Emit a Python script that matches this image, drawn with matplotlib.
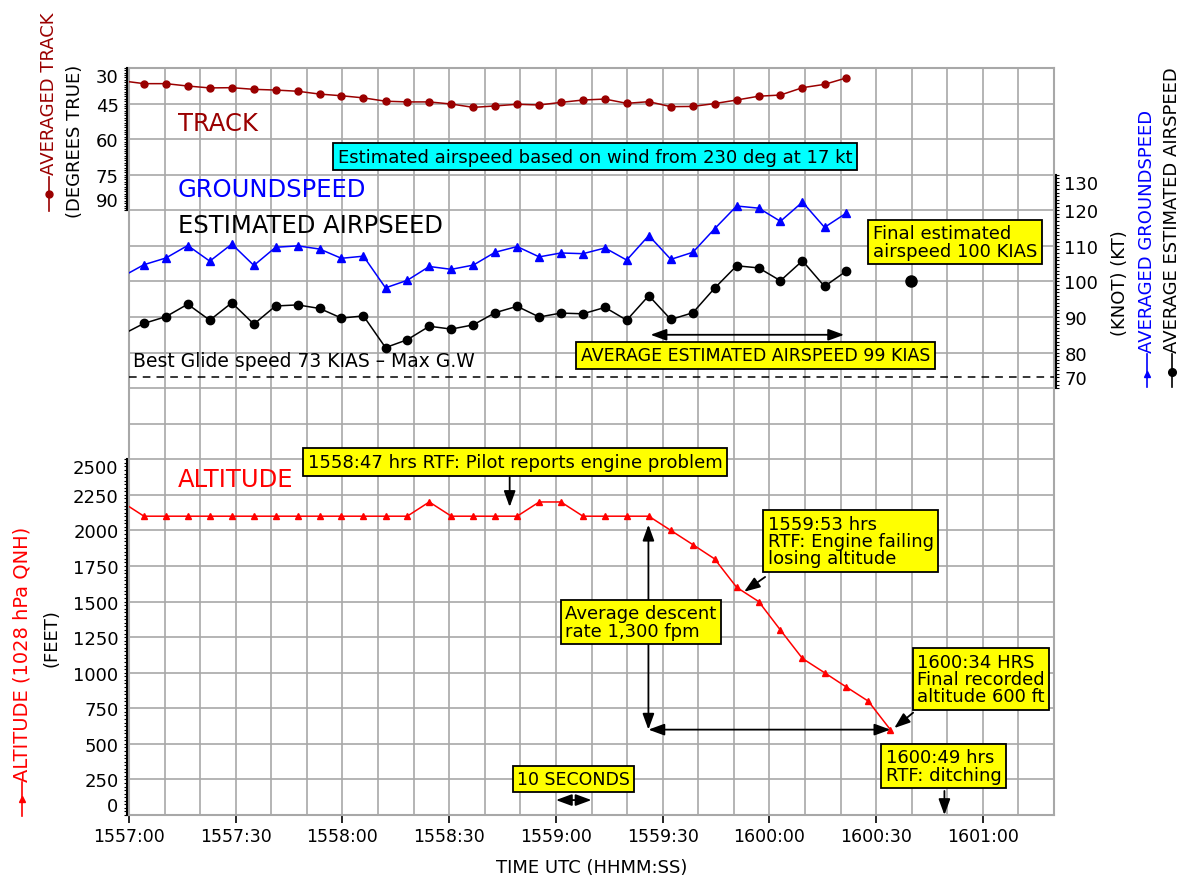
import numpy as np
import matplotlib
matplotlib.use('Agg')
import matplotlib.pyplot as plt
from matplotlib.lines import Line2D
from matplotlib.ticker import MultipleLocator, FixedLocator

plt.rcParams['font.family'] = 'DejaVu Sans'

W, H = 1189, 878

# time in seconds after 1557:00 UTC
times = [-2.0, 4.2, 10.4, 16.5, 22.7, 28.9, 35.1, 41.2, 47.4, 53.6, 59.7, 65.9,
         72.1, 78.2, 84.4, 90.6, 96.8, 102.9, 109.1, 115.3, 121.4, 127.6, 133.8,
         139.9, 146.1, 152.3, 158.5, 164.6, 170.8, 177.0, 183.1, 189.3, 195.5,
         201.6, 207.8, 214.0]

track = [35.4, 36.6, 36.6, 37.6, 38.4, 38.3, 39.0, 39.3, 39.8, 41.0, 41.7, 42.6,
         44.0, 44.3, 44.3, 45.2, 46.6, 46.0, 45.3, 45.6, 44.5, 43.5, 43.1, 44.9,
         44.2, 46.3, 46.2, 45.0, 43.5, 41.9, 41.4, 38.3, 36.9, 34.2]

groundspeed = [101.3, 104.7, 106.6, 110.1, 105.7, 110.5, 104.5, 109.6, 110.0,
               109.1, 106.5, 107.1, 98.2, 100.3, 104.2, 103.4, 104.6, 108.2,
               109.8, 106.9, 108.0, 107.8, 109.4, 106.0, 112.9, 106.2, 108.2,
               114.8, 121.2, 120.6, 116.9, 122.3, 115.2, 119.2]

airspeed = [85.0, 88.2, 90.1, 93.6, 89.1, 94.0, 88.0, 93.1, 93.4, 92.4, 89.7,
            90.3, 81.4, 83.6, 87.4, 86.6, 87.8, 91.2, 93.0, 90.0, 91.1, 90.9,
            92.7, 89.1, 96.0, 89.3, 91.2, 98.1, 104.4, 103.8, 100.2, 105.8,
            98.6, 102.9]

altitude = [2200, 2100, 2100, 2100, 2100, 2100, 2100, 2100, 2100, 2100, 2100,
            2100, 2100, 2100, 2200, 2100, 2100, 2100, 2100, 2200, 2200, 2100,
            2100, 2100, 2100, 2000, 1900, 1800, 1600, 1500, 1300, 1100, 1000,
            900, 800, 600]

tick_secs = [0, 30, 60, 90, 120, 150, 180, 210, 240]
tick_labels = ['1557:00', '1557:30', '1558:00', '1558:30', '1559:00',
               '1559:30', '1600:00', '1600:30', '1601:00']
track_ticks = [30, 45, 60, 75, 90]
speed_ticks = [70, 80, 90, 100, 110, 120, 130]
alt_ticks = [0, 250, 500, 750, 1000, 1250, 1500, 1750, 2000, 2250, 2500]

final_time, final_speed = 219.7, 100
best_glide = 73

DARKRED = '#9a0000'
GRID = '#a8a8a8'
n = len(track)

fig = plt.figure(figsize=(W / 100, H / 100), dpi=100)
ax = fig.add_axes([129 / W, 1 - 816 / H, 925 / W, 747 / H])
ax.set_xlim(0, 260)
ax.set_ylim(0, 21)


def side_axis(side, lim, ticks, minor_step):
    a = ax.twinx()
    a.set_ylim(*lim)
    for s in a.spines.values():
        s.set_visible(False)
    sp = a.spines[side]
    sp.set_visible(True)
    sp.set_bounds(min(ticks), max(ticks))
    sp.set_position(('outward', 1.5))
    sp.set_linewidth(1.5)
    if side == 'left':
        a.yaxis.tick_left()
    else:
        a.yaxis.tick_right()
    a.yaxis.set_major_locator(FixedLocator(ticks))
    a.yaxis.set_minor_locator(FixedLocator(np.arange(min(ticks), max(ticks), minor_step)))
    a.tick_params(axis='y', which='both', direction='out', length=2, width=0.8,
                  labelsize=13, pad=4)
    return a


axT = side_axis('left', (345, 30), track_ticks, 1)
axS = side_axis('right', (-50, 160), speed_ticks, 1)
axA = side_axis('left', (0, 5250), alt_ticks, 25)

# base grid axes (after twinx, which turns the left ticks back on)
ax.xaxis.set_major_locator(FixedLocator(tick_secs))
ax.set_xticklabels(tick_labels)
ax.xaxis.set_minor_locator(MultipleLocator(10))
ax.yaxis.set_major_locator(MultipleLocator(1))
ax.tick_params(axis='y', which='both', left=False, right=False,
               labelleft=False, labelright=False)
ax.tick_params(axis='x', which='major', direction='out', length=6, width=1.2,
               color='black', labelsize=12.5, pad=3)
ax.tick_params(axis='x', which='minor', length=0)
ax.grid(True, which='both', color=GRID, lw=1.2)
for s in ax.spines.values():
    s.set_color(GRID)
    s.set_linewidth(1.5)
ax.set_xlabel('TIME UTC (HHMM:SS)', fontsize=13, labelpad=9)

for a, top_first in ((axT, True), (axS, False), (axA, False)):
    labs = a.get_yticklabels()
    if top_first:
        labs[0].set_va('top')
        labs[-1].set_va('bottom')
    else:
        labs[0].set_va('bottom')
        labs[-1].set_va('top')

axT.plot(times[:n], track, color=DARKRED, marker='o', ms=5, lw=1.1)
axS.plot(times[:n], groundspeed, color='blue', marker='^', ms=5.5, lw=1.1)
axS.plot(times[:n], airspeed, color='black', marker='o', ms=6, lw=1.1)
axS.plot([final_time], [final_speed], 'o', color='black', ms=8)
axS.axhline(best_glide, color='black', ls=(0, (5, 4)), lw=1.1)
axA.plot(times, altitude, color='red', marker='^', ms=5, lw=1.1)

# series names inside the plot
axT.text(13.8, 53.2, 'TRACK', color=DARKRED, fontsize=17.5, va='center')
axS.text(13.8, 126.0, 'GROUNDSPEED', color='blue', fontsize=17.5, va='center')
axS.text(13.8, 115.9, 'ESTIMATED AIRPSEED', color='black', fontsize=17.5, va='center')
axA.text(13.8, 2361, 'ALTITUDE', color='red', fontsize=17.5, va='center')
axS.text(1.1, 77.9, 'Best Glide speed 73 KIAS \u2013 Max G.W', fontsize=13.5, va='center')


def box(a, x, y, s, fc='yellow', size=13):
    a.text(x, y, s, fontsize=size, ha='left', va='center', linespacing=0.95,
           zorder=10, bbox=dict(boxstyle='square,pad=0.25', fc=fc, ec='black', lw=1.3))


def arrow(a, start, end, style='-|>'):
    a.annotate('', xy=end, xytext=start, zorder=9,
               arrowprops=dict(arrowstyle=style + ',head_length=0.6,head_width=0.22',
                               mutation_scale=16, color='black', lw=1.3,
                               shrinkA=0, shrinkB=0))


box(axS, 58.7, 135.1, 'Estimated airspeed based on wind from 230 deg at 17 kt', fc='cyan')
box(axS, 209.1, 111.1, 'Final estimated\nairspeed 100 KIAS')
arrow(axS, (146.6, 85), (201, 85), '<|-|>')
box(axS, 127.0, 79.2, 'AVERAGE ESTIMATED AIRSPEED 99 KIAS', size=12.5)

box(axA, 50.3, 2481, '1558:47 hrs RTF: Pilot reports engine problem')
arrow(axA, (107, 2375), (107, 2165))
box(axA, 179.6, 1926, '1559:53 hrs\nRTF: Engine failing\nlosing altitude')
arrow(axA, (178.8, 1673), (172.9, 1569))
arrow(axA, (146.0, 1300), (146.0, 2040))
arrow(axA, (146.0, 1300), (146.0, 600))
arrow(axA, (146.0, 600), (214.0, 600), '<|-|>')
box(axA, 122.6, 1356, 'Average descent\nrate 1,300 fpm')
box(axA, 221.5, 956, '1600:34 HRS\nFinal recorded\naltitude 600 ft')
arrow(axA, (220.4, 719), (215.1, 611))
box(axA, 212.7, 344, '1600:49 hrs\nRTF: ditching')
arrow(axA, (229.2, 169), (229.2, 0))
box(axA, 109.1, 253, '10 SECONDS', size=12.5)
arrow(axA, (120, 105), (130, 105), '<|-|>')


def fp(px, py):
    return px / W, 1 - py / H


def legend_glyph(px, py0, py1, pym, color, marker, ms):
    x0, y0 = fp(px, py0)
    _, y1 = fp(px, py1)
    _, ym = fp(px, pym)
    fig.add_artist(Line2D([x0, x0], [y0, y1], color=color, lw=1.2, transform=fig.transFigure))
    fig.add_artist(Line2D([x0], [ym], color=color, marker=marker, ms=ms, transform=fig.transFigure))


fig.text(*fp(49, 175), 'AVERAGED TRACK', rotation=90, color=DARKRED,
         ha='center', va='bottom', fontsize=13)
legend_glyph(49, 178, 212, 195, DARKRED, 'o', 5)
fig.text(*fp(75, 141), '(DEGREES TRUE)', rotation=90, ha='center', va='center', fontsize=13)

fig.text(*fp(22, 782), 'ALTITUDE (1028 hPa QNH)', rotation=90, color='red',
         ha='center', va='bottom', fontsize=14)
legend_glyph(22, 783, 817, 800, 'red', '^', 5)
fig.text(*fp(51, 638), '(FEET)', rotation=90, ha='center', va='center', fontsize=13)

fig.text(*fp(1120, 283), '(KNOT) (KT)', rotation=90, ha='center', va='center', fontsize=13)
fig.text(*fp(1147, 353), 'AVERAGED GROUNDSPEED', rotation=90, color='blue',
         ha='center', va='bottom', fontsize=13)
legend_glyph(1147, 355, 388, 375, 'blue', '^', 5)
fig.text(*fp(1172, 353), 'AVERAGE ESTIMATED AIRSPEED', rotation=90, color='black',
         ha='center', va='bottom', fontsize=13)
legend_glyph(1172, 355, 388, 373, 'black', 'o', 5.5)

fig.savefig('out.png', dpi=100)
